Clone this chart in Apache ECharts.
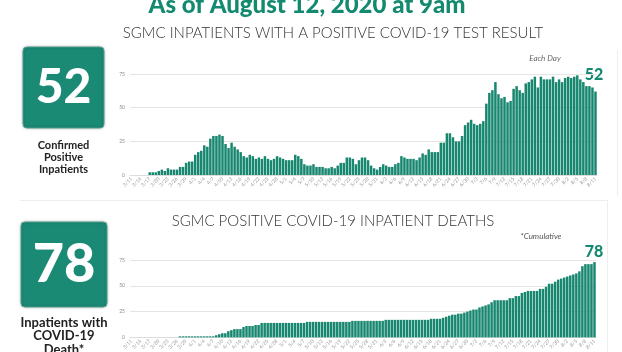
<!DOCTYPE html>
<html>
<head>
<meta charset="utf-8">
<script src="https://cdn.jsdelivr.net/npm/echarts@6/dist/echarts.min.js"></script>
<style>
  html, body { margin: 0; padding: 0; background: #fff; }
  #chart { width: 622px; height: 352px; }
</style>
</head>
<body>
<div id="chart"></div>
<script>
// daily inpatients with a positive test, 3/11 .. 8/11
const inpatients = [
  0, 0, 0, 0, 0, 0,
  2, 2, 2, 3, 4, 3, 5, 4, 4, 4,
  6, 6, 9, 10, 10, 15, 17, 18, 22, 21,
  27, 29, 29, 30, 29, 23, 20, 24, 21, 19,
  17, 14, 13, 15, 14, 12, 13, 12, 14, 12,
  11, 12, 14, 13,
  12, 11, 11, 11, 15, 14, 12, 8, 7, 7,
  8, 6, 6, 6, 5, 5, 6, 5, 7, 9,
  9, 13, 13, 12, 8, 11, 13, 13, 11, 7,
  5, 4, 6, 8, 7, 6, 6, 8, 9, 14,
  13, 12, 12, 12, 11, 13, 16, 15, 19, 17,
  17, 17, 24, 24, 31, 31, 28, 25, 25, 29,
  37, 39, 41, 38, 37, 38, 40, 53, 61, 63,
  69, 60, 57, 58, 54, 55, 64, 66, 63, 61,
  68, 69, 71, 73, 65, 73, 71, 71, 71, 73,
  69, 71, 69, 72, 73, 72, 73, 74, 71, 69,
  66, 66, 65, 62
];

// cumulative inpatient deaths, same days
const deaths = [
  0, 0, 0, 0, 0, 0, 0, 0, 0, 0, 0, 0, 0, 0, 0, 0,
  1, 1, 1, 1, 1, 1, 1, 1, 1, 1, 1, 1,
  2, 3, 4, 4, 6, 7, 8, 8, 8, 10, 11, 11, 11, 12, 12,
  14, 14, 14, 14, 14, 14, 14, 14, 14, 14, 14, 14, 14, 14, 14,
  15, 15, 15, 15, 15, 15, 15, 15, 15, 15, 15, 15, 15, 15, 15,
  16, 16, 16, 16, 16, 16, 16, 16, 16, 16, 16,
  17, 17, 17, 17, 17, 17, 17, 17, 17, 17, 17, 17, 17, 17, 17,
  18, 18, 18, 18,
  19, 20, 21, 22, 22, 23, 23, 24, 25, 26,
  27, 27, 29, 30, 31, 32, 34, 36, 36, 36,
  36, 36, 38, 38, 40, 40, 43, 44, 45, 45,
  45, 45, 47, 47, 49, 52, 52, 54, 56, 57,
  58, 59, 60, 61, 62, 64, 69, 71, 71, 71,
  73
];

const yTicks = [0, 25, 50, 75];

// day labels 3/11 .. 8/11
const days = [];
for (let d = new Date(2020, 2, 11); days.length < inpatients.length; d.setDate(d.getDate() + 1)) {
  days.push((d.getMonth() + 1) + '/' + d.getDate());
}

const teal = '#17876f';
const boxTeal = '#1a8a75';
const titleTeal = '#13896f';

const chart = echarts.init(document.getElementById('chart'));

const xAxisBase = {
  type: 'category',
  data: days,
  axisTick: { show: false },
  axisLine: { lineStyle: { color: '#dcdcdc' } },
  axisLabel: { interval: 2, rotate: 45, fontSize: 5, color: '#9a9a9a', margin: 3, fontFamily: 'Lato' }
};
const yAxisBase = {
  type: 'value',
  min: yTicks[0],
  max: yTicks[yTicks.length - 1],
  interval: 25,
  axisLabel: { fontSize: 5, color: '#8a8a8a', margin: 5, fontFamily: 'Lato' },
  splitLine: { lineStyle: { color: '#e4e4e4' } }
};

const option = {
  animation: false,
  grid: [
    { left: 130, right: 25, top: 74, height: 101 },
    { left: 130, right: 26, top: 260, height: 79.5 }
  ],
  xAxis: [
    Object.assign({ gridIndex: 0 }, xAxisBase),
    Object.assign({ gridIndex: 1 }, xAxisBase)
  ],
  yAxis: [
    Object.assign({ gridIndex: 0 }, yAxisBase),
    Object.assign({ gridIndex: 1 }, yAxisBase)
  ],
  series: [
    { type: 'bar', xAxisIndex: 0, yAxisIndex: 0, data: inpatients,
      barCategoryGap: '18%', itemStyle: { color: teal } },
    { type: 'bar', xAxisIndex: 1, yAxisIndex: 1, data: deaths,
      barCategoryGap: '18%', itemStyle: { color: teal } }
  ],
  graphic: [
    // faint card edges
    { type: 'line', shape: { x1: 20, y1: 200.5, x2: 607, y2: 200.5 }, style: { stroke: '#eeeeee', lineWidth: 1 } },
    { type: 'line', shape: { x1: 617.5, y1: 50, x2: 617.5, y2: 196 }, style: { stroke: '#eeeeee', lineWidth: 1 } },
    { type: 'line', shape: { x1: 607.5, y1: 200, x2: 607.5, y2: 352 }, style: { stroke: '#eeeeee', lineWidth: 1 } },

    { type: 'text', x: 307, y: 5, style: { text: 'As of August 12, 2020 at 9am', fill: titleTeal,
      font: '900 24px Lato', align: 'center', verticalAlign: 'middle' } },
    { type: 'text', x: 333, y: 33, style: { text: 'SGMC INPATIENTS WITH A POSITIVE COVID-19 TEST RESULT', fill: '#333',
      font: '300 15px Lato', align: 'center', verticalAlign: 'middle' } },
    { type: 'text', x: 333, y: 221, style: { text: 'SGMC POSITIVE COVID-19 INPATIENT DEATHS', fill: '#333',
      font: '300 15px Lato', align: 'center', verticalAlign: 'middle' } },

    { type: 'text', x: 545, y: 58, style: { text: 'Each Day', fill: '#666',
      font: 'italic 8px Lato', align: 'center', verticalAlign: 'middle' } },
    { type: 'text', x: 594, y: 75, style: { text: '52', fill: titleTeal,
      font: '900 16px Lato', align: 'center', verticalAlign: 'middle' } },
    { type: 'text', x: 541, y: 236, style: { text: '*Cumulative', fill: '#555',
      font: 'italic 8px Lato', align: 'center', verticalAlign: 'middle' } },
    { type: 'text', x: 594, y: 252, style: { text: '78', fill: titleTeal,
      font: '900 16px Lato', align: 'center', verticalAlign: 'middle' } },

    // number boxes
    { type: 'rect', shape: { x: 23, y: 47, width: 81, height: 81, r: 4 },
      style: { fill: boxTeal, stroke: '#4f9e8e', lineWidth: 1, shadowBlur: 3, shadowColor: 'rgba(0,0,0,0.25)' } },
    { type: 'text', x: 63.5, y: 88, style: { text: '52', fill: '#fff',
      font: '900 48px Lato', align: 'center', verticalAlign: 'middle' } },
    { type: 'text', x: 63.5, y: 157, style: { text: 'Confirmed\nPositive\nInpatients', fill: '#222',
      font: '700 11px Lato', align: 'center', verticalAlign: 'middle', lineHeight: 12 } },

    { type: 'rect', shape: { x: 21, y: 222, width: 86, height: 85, r: 4 },
      style: { fill: boxTeal, stroke: '#4f9e8e', lineWidth: 1, shadowBlur: 3, shadowColor: 'rgba(0,0,0,0.25)' } },
    { type: 'text', x: 64, y: 265, style: { text: '78', fill: '#fff',
      font: '900 54px Lato', align: 'center', verticalAlign: 'middle' } },
    { type: 'text', x: 64, y: 336, style: { text: 'Inpatients with\nCOVID-19\nDeath*', fill: '#222',
      font: '700 13px Lato', align: 'center', verticalAlign: 'middle', lineHeight: 13.5 } }
  ]
};

chart.setOption(option);
</script>
</body>
</html>
